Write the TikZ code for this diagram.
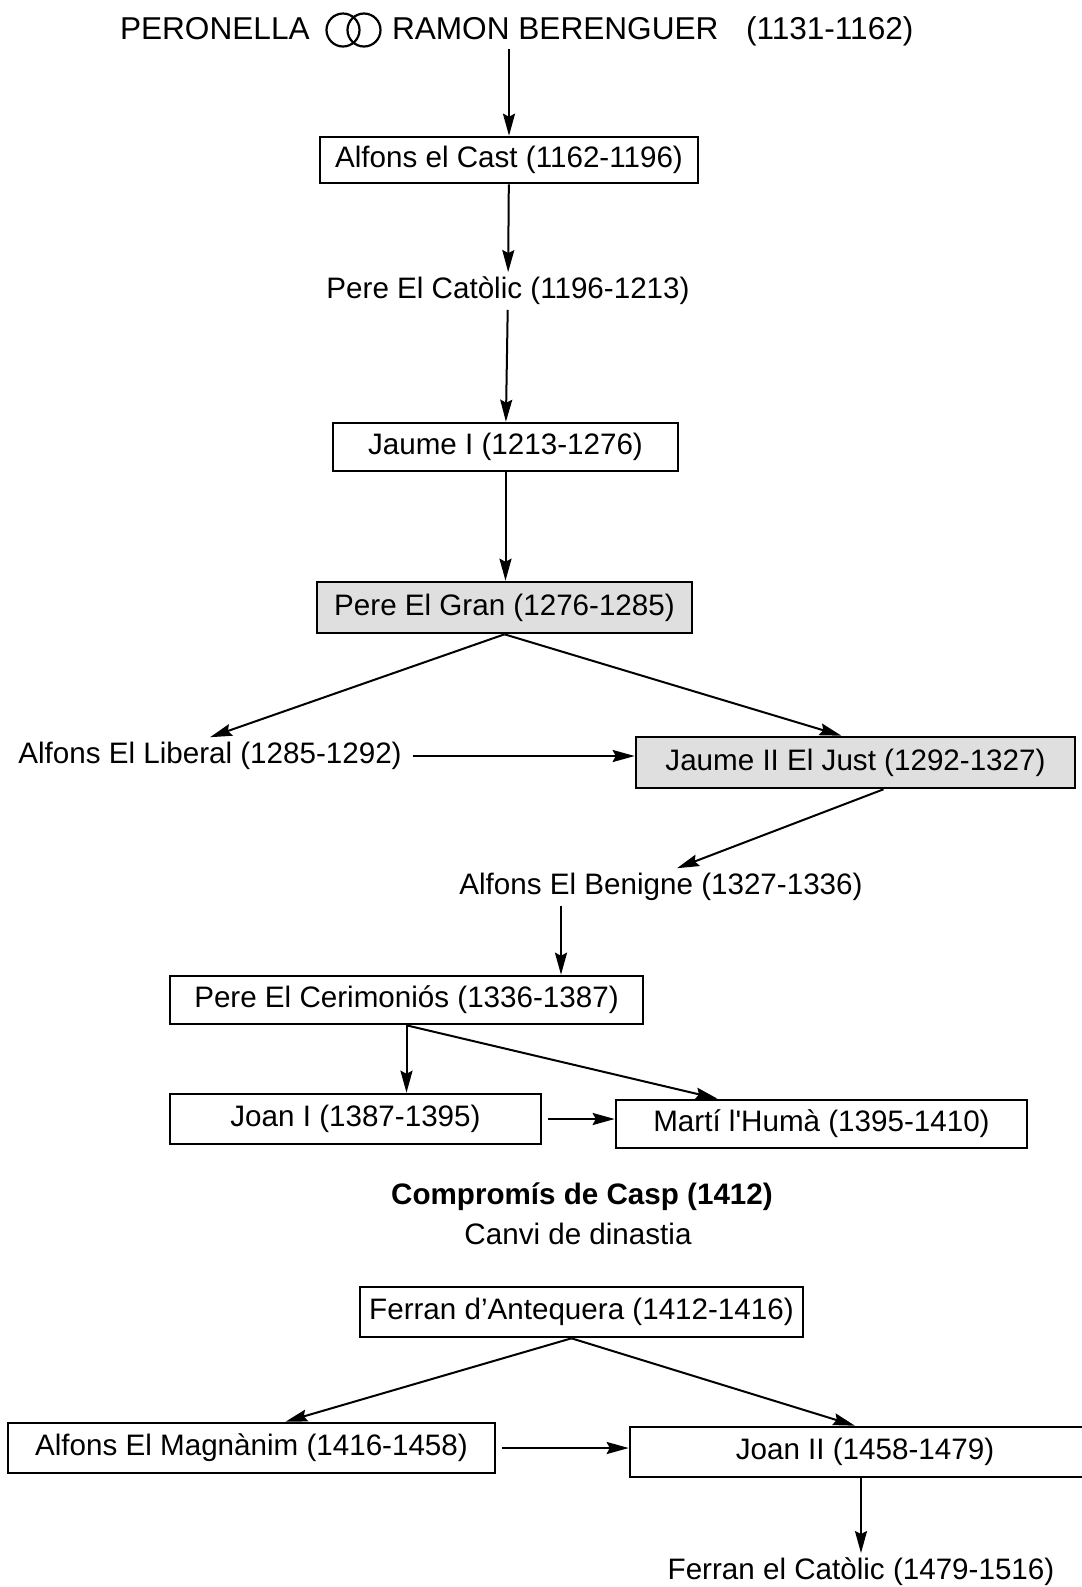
\documentclass[tikz,border=0pt]{standalone}
\usepackage{fontspec}
\setmainfont{Liberation Sans}
\usepackage{tikz}
\usetikzlibrary{positioning}
\usetikzlibrary{calc}
\usetikzlibrary{arrows.meta}
\tikzset{every picture/.style={line width=1pt}}
\tikzset{lbl/.style={font=\fontsize{14.8}{17}\selectfont,inner sep=2pt},
box/.style={lbl,draw,line width=1.3pt,inner sep=0pt},
king/.style={box,fill=gray!25},
arr/.style={-{Stealth[length=11pt,width=6pt,inset=1.5pt]}},
toptxt/.style={font=\fontsize{15.8}{18}\selectfont,inner sep=0pt,anchor=west}}

\begin{document}
\begin{tikzpicture}[x=0.5pt,y=-0.5pt]
\useasboundingbox (0,0) rectangle (1082,1587);
\clip (0,0) rectangle (1082,1587);

\node (peronella) at (119,29) [toptxt] {PERONELLA};
\node (ring1) at (343,30) [circle,draw,line width=1.1pt,minimum size=16.5pt,inner sep=0pt] {};
\node (ring2) at (364,30) [circle,draw,line width=1.1pt,minimum size=16.5pt,inner sep=0pt] {};
\node (ramon) at (391,29) [toptxt] {RAMON BERENGUER};
\node (years) at (745,31) [toptxt] {(1131-1162)};

\node (cast) at (509,160) [box,minimum width=189pt,minimum height=23pt] {Alfons el Cast (1162-1196)};
\node (catolic) at (508,291) [lbl] {Pere El Catòlic (1196-1213)};
\node (jaume1) at (505.5,447) [box,minimum width=172.5pt,minimum height=24pt] {Jaume I (1213-1276)};
\node (gran) at (504.5,607.5) [king,minimum width=187.5pt,minimum height=25.5pt] {Pere El Gran (1276-1285)};
\node (liberal) at (210,756) [lbl] {Alfons El Liberal (1285-1292)};
\node (just) at (855.5,762.5) [king,minimum width=219.5pt,minimum height=25.5pt] {Jaume II El Just (1292-1327)};
\node (benigne) at (661,887) [lbl] {Alfons El Benigne (1327-1336)};
\node (cerim) at (406.5,1000) [box,minimum width=236.5pt,minimum height=24pt] {Pere El Cerimoniós (1336-1387)};
\node (joan1) at (355.5,1119) [box,minimum width=185.5pt,minimum height=25pt] {Joan I (1387-1395)};
\node (marti) at (821.5,1124) [box,minimum width=205.5pt,minimum height=24pt] {Martí l\textquotesingle Humà (1395-1410)};
\node (casp) at (582,1197) [lbl,font=\fontsize{14.8}{17}\selectfont\bfseries] {Compromís de Casp (1412)};
\node (canvi) at (578,1234) [lbl] {Canvi de dinastia};
\node (antequera) at (581.5,1312) [box,minimum width=221.5pt,minimum height=25pt] {Ferran d’Antequera (1412-1416)};
\node (magnanim) at (251.5,1448) [box,minimum width=243.5pt,minimum height=25pt] {Alfons El Magnànim (1416-1458)};
\node (joan2) at (865,1452) [box,minimum width=235pt,minimum height=25pt] {Joan II (1458-1479)};
\node (ferran) at (861,1572) [lbl] {Ferran el Catòlic (1479-1516)};

\draw[arr] (cast.north |- ramon.south) ++(0,-4pt) -- (cast.north);
\draw[arr] (cast) -- (catolic);
\draw[arr] (catolic) -- (jaume1);
\draw[arr] (jaume1.south) -- (jaume1.south |- gran.north);
\draw[arr] (gran.south) -- (liberal.north);
\draw[arr] (gran.south) -- ([xshift=-7pt]just.north);
\draw[arr] (liberal.east) ++(3pt,0) -- (liberal.east -| just.west);
\draw[arr] ([xshift=14pt]just.south) -- ([xshift=8pt]benigne.north);
\draw[arr] ([xshift=-50pt]benigne.south) -- ([xshift=-50pt]benigne.south |- cerim.north);
\draw[arr] (cerim.south) -- (cerim.south |- joan1.north);
\draw[arr] (cerim.south) -- ([xshift=-52pt]marti.north);
\draw[arr] (joan1.east) ++(3pt,0) -- (joan1.east -| marti.west);
\draw[arr] ([xshift=-5pt]antequera.south) -- ([xshift=17pt]magnanim.north);
\draw[arr] ([xshift=-5pt]antequera.south) -- ([xshift=-5pt]joan2.north);
\draw[arr] (magnanim.east) ++(3pt,0) -- (magnanim.east -| joan2.west);
\draw[arr] ([xshift=-2pt]joan2.south) -- ([xshift=-2pt]joan2.south |- ferran.north);

\end{tikzpicture}
\end{document}
